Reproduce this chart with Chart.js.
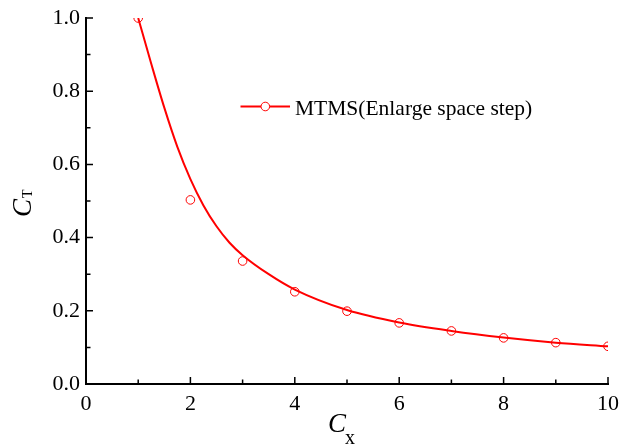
<!DOCTYPE html>
<html>
<head>
<meta charset="utf-8">
<script src="https://cdn.jsdelivr.net/npm/chart.js@4/dist/chart.umd.min.js"></script>
<style>
  html, body { margin: 0; padding: 0; background: #fff; }
  #wrap { width: 619px; height: 446px; position: relative; }
</style>
</head>
<body>
<div id="wrap"><canvas id="ctChart"></canvas></div>
<script>
// measured points (circles)
const cxValues = [1, 2, 3, 4, 5, 6, 7, 8, 9, 10];
const ctValues = [1.0, 0.503, 0.336, 0.252, 0.199, 0.167, 0.145, 0.126, 0.113, 0.103];

// smooth curve
const curveX = [1, 1.25, 1.5, 1.75, 2, 2.25, 2.5, 2.75, 3, 3.5, 4, 5, 6, 7, 8, 9, 10];
const curveY = [1.0, 0.875, 0.755, 0.648, 0.56, 0.488, 0.431, 0.386, 0.352, 0.300, 0.258, 0.202, 0.168, 0.145, 0.127, 0.113, 0.103];

const seriesLabel = 'MTMS(Enlarge space step)';
const xMajorTicks = [0, 2, 4, 6, 8, 10];
const xMinorTicks = [1, 3, 5, 7, 9];
const yMajorTicks = [0, 0.2, 0.4, 0.6, 0.8, 1.0];
const yMinorTicks = [0.1, 0.3, 0.5, 0.7, 0.9];

const serif = "'Liberation Serif', 'Times New Roman', serif";
Chart.defaults.font.family = serif;

// inward ticks, axis titles with subscripts, legend inside the plot
const decorPlugin = {
  id: 'decor',
  afterDraw(chart) {
    const ctx = chart.ctx;
    const xs = chart.scales.x, ys = chart.scales.y;
    const area = chart.chartArea;
    ctx.save();
    ctx.strokeStyle = '#000';
    ctx.lineWidth = 1.5;
    ctx.beginPath();
    xMajorTicks.forEach(v => { const p = xs.getPixelForValue(v); ctx.moveTo(p, area.bottom); ctx.lineTo(p, area.bottom - 7); });
    xMinorTicks.forEach(v => { const p = xs.getPixelForValue(v); ctx.moveTo(p, area.bottom); ctx.lineTo(p, area.bottom - 4.5); });
    yMajorTicks.forEach(v => { const p = ys.getPixelForValue(v); ctx.moveTo(area.left, p); ctx.lineTo(area.left + 7, p); });
    yMinorTicks.forEach(v => { const p = ys.getPixelForValue(v); ctx.moveTo(area.left, p); ctx.lineTo(area.left + 4.5, p); });
    ctx.stroke();

    // x title: C with subscript x
    ctx.fillStyle = '#000';
    ctx.textBaseline = 'alphabetic';
    ctx.textAlign = 'left';
    ctx.font = 'italic 27px ' + serif;
    ctx.fillText('C', 328, 432);
    ctx.font = '20px ' + serif;
    ctx.fillText('x', 345, 444);

    // y title: C with subscript T, rotated
    ctx.save();
    ctx.translate(30.5, 217);
    ctx.rotate(-Math.PI / 2);
    ctx.font = 'italic 27px ' + serif;
    ctx.fillText('C', 0, 0);
    const w = ctx.measureText('C').width;
    ctx.font = '14px ' + serif;
    ctx.fillText('T', w + 1, 1.5);
    ctx.restore();

    // legend
    ctx.strokeStyle = '#ff0000';
    ctx.lineWidth = 2;
    ctx.beginPath();
    ctx.moveTo(240.5, 106.5);
    ctx.lineTo(290, 106.5);
    ctx.stroke();
    ctx.lineWidth = 1;
    ctx.fillStyle = '#fff';
    ctx.beginPath();
    ctx.arc(265.3, 106.5, 4.3, 0, Math.PI * 2);
    ctx.fill();
    ctx.stroke();
    ctx.fillStyle = '#000';
    ctx.font = '21.5px ' + serif;
    ctx.fillText(seriesLabel, 295, 115);
    ctx.restore();
  }
};

new Chart(document.getElementById('ctChart'), {
  type: 'scatter',
  data: {
    datasets: [{
      label: seriesLabel,
      data: cxValues.map((x, i) => ({ x: x, y: ctValues[i] })),
      showLine: false,
      pointStyle: 'circle',
      pointRadius: 4.3,
      pointBorderWidth: 1,
      pointBorderColor: '#ff0000',
      pointBackgroundColor: 'rgba(0,0,0,0)',
      order: 0
    }, {
      label: 'curve',
      data: curveX.map((x, i) => ({ x: x, y: curveY[i] })),
      showLine: true,
      cubicInterpolationMode: 'monotone',
      borderColor: '#ff0000',
      borderWidth: 2,
      pointRadius: 0,
      order: 1
    }]
  },
  options: {
    responsive: true,
    maintainAspectRatio: false,
    animation: false,
    layout: { padding: { top: 18, right: 11, left: 0, bottom: 0 } },
    plugins: {
      legend: { display: false },
      tooltip: { enabled: false }
    },
    scales: {
      x: {
        type: 'linear',
        min: 0,
        max: 10,
        afterFit: s => { s.height = 62; s.paddingLeft = 0; s.paddingRight = 0; },
        grid: { display: false, drawTicks: false },
        border: { display: true, color: '#000', width: 2 },
        ticks: { stepSize: 2, padding: 7, color: '#000', font: { family: serif, size: 22 }, maxRotation: 0 }
      },
      y: {
        type: 'linear',
        min: 0,
        max: 1,
        afterFit: s => { s.width = 86; s.paddingTop = 0; s.paddingBottom = 0; },
        grid: { display: false, drawTicks: false },
        border: { display: true, color: '#000', width: 2 },
        ticks: { stepSize: 0.2, padding: 6, color: '#000', font: { family: serif, size: 22 }, callback: v => v.toFixed(1) }
      }
    }
  },
  plugins: [decorPlugin]
});
</script>
</body>
</html>
